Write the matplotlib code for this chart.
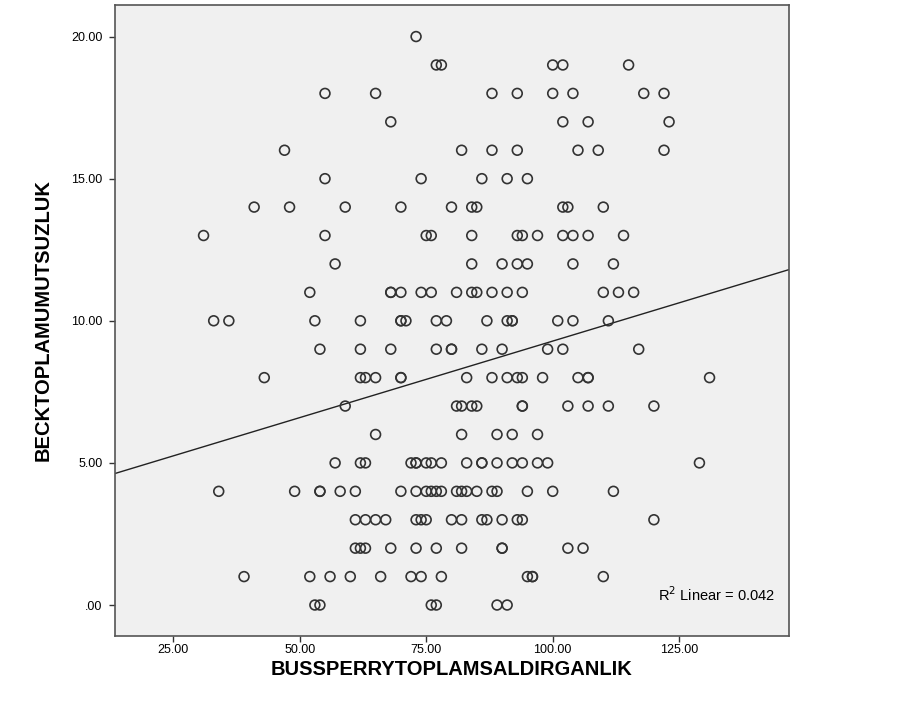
import numpy as np
import matplotlib.pyplot as plt

plt.rcParams['font.family'] = ['Liberation Sans', 'DejaVu Sans']

# x values (BUSSPERRY total) grouped by their y value (BECK total)
rows = {
    20: [73],
    19: [77, 78, 100, 102, 115],
    18: [55, 65, 88, 93, 100, 104, 118, 122],
    17: [68, 102, 107, 123],
    16: [47, 82, 88, 93, 105, 109, 122],
    15: [55, 74, 86, 91, 95],
    14: [41, 48, 59, 70, 80, 84, 85, 102, 103, 110],
    13: [31, 55, 75, 76, 84, 93, 94, 97, 102, 104, 107, 114],
    12: [57, 84, 90, 93, 95, 104, 112],
    11: [52, 68, 68, 70, 74, 76, 81, 84, 85, 88, 91, 94, 110, 113, 116],
    10: [33, 36, 53, 62, 70, 70, 71, 77, 79, 87, 91, 92, 92, 101, 104, 111],
    9: [54, 62, 68, 77, 80, 80, 86, 90, 99, 102, 117],
    8: [43, 62, 63, 65, 70, 70, 83, 88, 91, 93, 94, 98, 105, 107, 107, 131],
    7: [59, 81, 82, 84, 85, 94, 94, 103, 107, 111, 120],
    6: [65, 82, 89, 92, 97],
    5: [57, 62, 63, 72, 73, 73, 75, 76, 78, 83, 86, 86, 89, 92, 94, 97, 99, 129],
    4: [34, 49, 54, 54, 58, 61, 70, 73, 75, 76, 77, 78, 81, 82, 83, 85, 88,
        89, 95, 100, 112],
    3: [61, 63, 65, 67, 73, 74, 75, 80, 82, 86, 87, 90, 93, 94, 120],
    2: [61, 62, 63, 68, 73, 77, 82, 90, 90, 103, 106],
    1: [39, 52, 56, 60, 66, 72, 74, 78, 95, 96, 96, 110],
    0: [53, 54, 76, 77, 89, 91],
}

x_ticks = [25, 50, 75, 100, 125]
y_ticks = [0, 5, 10, 15, 20]
x_tick_labels = ['25.00', '50.00', '75.00', '100.00', '125.00']
y_tick_labels = ['.00', '5.00', '10.00', '15.00', '20.00']

x = np.array([v for k in rows for v in rows[k]], dtype=float)
y = np.array([k for k in rows for v in rows[k]], dtype=float)

fig = plt.figure(figsize=(9.02, 7.21), dpi=100)
ax = fig.add_axes([115 / 902, 85 / 721, 674 / 902, 631 / 721])
ax.set_facecolor('#f0f0f0')

ax.scatter(x, y, s=50, facecolors='none', edgecolors='#333333', linewidths=1.2, zorder=3)

# linear fit line
xlim = (13.5, 146.7)
slope, intercept = np.polyfit(x, y, 1)
xs = np.array(xlim)
ax.plot(xs, slope * xs + intercept, color='#222222', linewidth=1.0, zorder=2)

ax.set_xlim(xlim)
ax.set_ylim(-1.09, 21.11)
ax.set_xticks(x_ticks)
ax.set_xticklabels(x_tick_labels)
ax.set_yticks(y_ticks)
ax.set_yticklabels(y_tick_labels)
ax.tick_params(labelsize=9, length=4, width=1, color='#333333', direction='out')
ax.tick_params(axis='x', pad=1.5)
ax.tick_params(axis='y', pad=5)

for sp in ax.spines.values():
    sp.set_color('#555555')
    sp.set_linewidth(1.2)

ax.set_xlabel('BUSSPERRYTOPLAMSALDIRGANLIK', fontsize=14.5, fontweight='bold', labelpad=3)
ax.set_ylabel('BECKTOPLAMUMUTSUZLUK', fontsize=14.5, fontweight='bold', labelpad=13)

ax.text(0.979, 0.066, r'R$^2$ Linear = 0.042', transform=ax.transAxes,
        ha='right', va='center', fontsize=10.5)

fig.savefig('out.png', dpi=100)
